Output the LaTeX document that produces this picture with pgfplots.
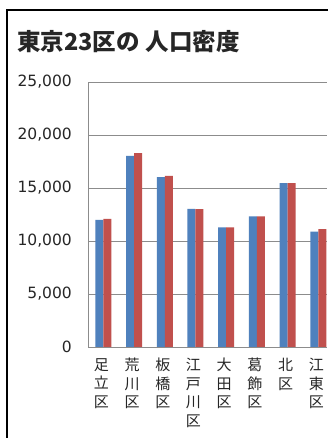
\documentclass[border=0pt]{standalone}
\usepackage{pgfplots}
\pgfplotsset{compat=1.18}
\usepackage{fontspec}
\setmainfont{DejaVu Sans}
\newfontfamily\cjk{Noto Sans CJK JP}
\definecolor{xlblue}{HTML}{4F81BD}
\definecolor{xlred}{HTML}{C0504D}
\definecolor{gridgray}{HTML}{8C8C8C}
\definecolor{txt}{HTML}{262626}
\begin{document}
\begin{tikzpicture}
\useasboundingbox (0,0) rectangle (327pt,438pt);
\fill[white] (0,0) rectangle (327pt,438pt);
\draw[black, line width=2pt] (7pt,-5pt) -- (7pt,428pt) -- (335pt,428pt);
\node[anchor=base west, inner sep=0pt, text=txt, font=\cjk\bfseries\fontsize{23.5}{27}\selectfont] at (17pt,387.5pt) {東京23区の\hspace{6pt}人口密度};
\begin{axis}[
  at={(88pt,91pt)}, anchor=south west,
  scale only axis, width=239pt, height=265pt,
  xmin=-0.5, xmax=7.285, ymin=0, ymax=25000,
  enlarge x limits=false,
  ybar=0pt, bar width=8pt,
  axis x line*=bottom, axis y line*=left,
  axis line style={gridgray, line width=0.9pt, -},
  ymajorgrids, grid style={gridgray, line width=0.9pt},
  ytick={0,5000,10000,15000,20000,25000},
  scaled y ticks=false,
  major tick length=0pt,
  /pgf/number format/.cd, 1000 sep={,}, fixed, precision=0, assume math mode=true,
  /pgfplots/.cd,
  yticklabel style={font=\fontsize{15.5}{18}\selectfont, text=txt, anchor=east, inner sep=0pt, xshift=-16pt},
  xtick={0,1,2,3,4,5,6,7},
  xticklabels={{足\\立\\区},{荒\\川\\区},{板\\橋\\区},{江\\戸\\川\\区},{大\\田\\区},{葛\\飾\\区},{北\\区},{江\\東\\区}},
  xticklabel style={font=\cjk\fontsize{15}{18.5}\selectfont, text=txt, align=center, anchor=north, inner sep=0pt, yshift=-11pt, xshift=-2pt},
  clip=true,
]
\addplot[fill=xlblue, draw=none] coordinates {(0,11985) (1,18040) (2,16020) (3,13025) (4,11290) (5,12330) (6,15450) (7,10880)};
\addplot[fill=xlred, draw=none] coordinates {(0,12080) (1,18290) (2,16150) (3,13010) (4,11290) (5,12330) (6,15450) (7,11130)};
\end{axis}
\end{tikzpicture}
\end{document}
